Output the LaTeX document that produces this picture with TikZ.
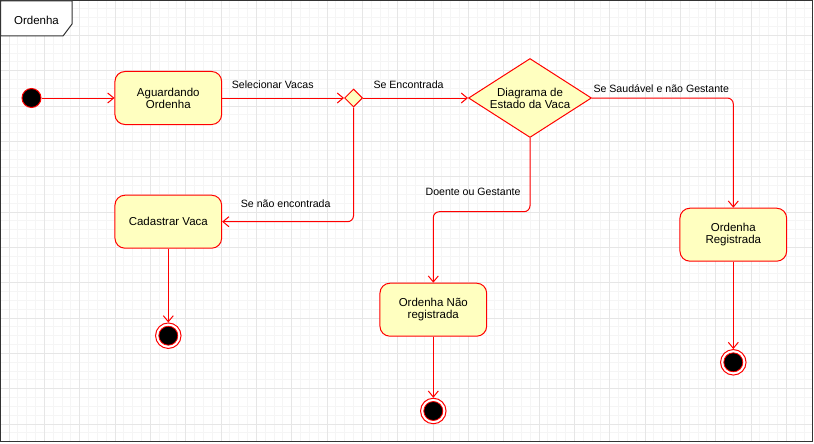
\documentclass[tikz,border=0pt]{standalone}
\usepackage{fontspec}
\setmainfont{Liberation Sans}
\usepackage{xcolor}
\usetikzlibrary{shapes, arrows.meta, positioning}
\definecolor{umlred}{HTML}{FF0000}
\definecolor{umlfill}{HTML}{FFFFC0}
\definecolor{gridmajor}{HTML}{E6E6E6}
\definecolor{gridminor}{HTML}{F5F5F5}

\begin{document}
\begin{tikzpicture}[x=1pt, y=-1pt,
  boxfont/.style={font=\fontsize{11.5}{12}\selectfont},
  lbl/.style={font=\fontsize{10.6}{12}\selectfont, inner sep=0pt},
  state/.style={boxfont, draw=umlred, fill=umlfill, line width=1pt, rounded corners=10pt,
    minimum width=106.7pt, minimum height=53pt, align=center},
  choice/.style={diamond, draw=umlred, fill=umlfill, line width=1pt, inner sep=0pt},
  initial/.style={circle, draw=umlred, fill=black, line width=1pt, minimum size=19pt, inner sep=0pt},
  final/.style={circle, draw=umlred, fill=white, line width=1pt, minimum size=25.5pt, inner sep=0pt,
    path picture={\filldraw[fill=black, draw=umlred, line width=0.8pt]
      (path picture bounding box.center) circle (9.5pt);}},
  trans/.style={draw=umlred, line width=1pt, rounded corners=6pt,
    -{Straight Barb[length=6pt, width=10pt]}}]
\useasboundingbox (0,0) rectangle (814,444);

% grade
\foreach \k in {0,...,91} \draw[gridminor, line width=0.8pt] ({0.17+8.833*\k},1) -- ++(0,440.5);
\foreach \k in {1,...,49} \draw[gridminor, line width=0.8pt] (0.5,{8.833*\k}) -- ++(811.5,0);
\foreach \k in {0,...,22} \draw[gridmajor, line width=0.8pt] ({9+35.33*\k},1) -- ++(0,440.5);
\foreach \k in {1,...,12} \draw[gridmajor, line width=0.8pt] (0.5,{35.33*\k}) -- ++(811.5,0);

% moldura
\draw[black!80, line width=1pt] (0.5,1) rectangle (812,441.5);
\draw[black!80, fill=white, line width=1pt] (0.5,1) -- (72,1) -- (72,24) -- (63,36) -- (0.5,36) -- cycle;
\node[boxfont, inner sep=0pt] (tab) at (36.5,20) {Ordenha};

% estados
\node[initial] (inicio) at (31.5,98) {};
\node[state] (aguard) at (168.3,98) {Aguardando\\Ordenha};
\node[choice, minimum width=18pt, minimum height=18pt] (selec) at (353.5,98) {};
\node[choice, boxfont, align=center, aspect=1.56, minimum width=123pt, minimum height=79pt] (estado) at (530,98) {Diagrama de\\Estado da Vaca};
\node[state] (cadastrar) at (168.3,221.7) {Cadastrar Vaca};
\node[state] (naoreg) at (433.3,309.7) {Ordenha Não\\registrada};
\node[state] (reg) at (733.3,234.7) {Ordenha\\Registrada};
\node[final] (fim1) at (168.3,335.7) {};
\node[final] (fim2) at (433.3,411) {};
\node[final] (fim3) at (733.3,362.3) {};

% transicoes
\draw[trans] (inicio) -- (aguard);
\draw[trans] (aguard) -- (selec);
\draw[trans] (selec) -- (estado);
\draw[trans] (selec.south) |- (cadastrar.east);
\draw[trans] (estado.east) -| (reg.north);
\draw[trans] (estado.south) -- ++(0,73.7) -| (naoreg.north);
\draw[trans] (cadastrar) -- (fim1);
\draw[trans] (naoreg) -- (fim2);
\draw[trans] (reg) -- (fim3);

\node[lbl, anchor=west] (lselec) at (231.7,84.3) {Selecionar Vacas};
\node[lbl, anchor=west] (lenc) at (373.3,84.3) {Se Encontrada};
\node[lbl, anchor=west] (lsaud) at (593.3,89) {Se Saudável e não Gestante};
\node[lbl, anchor=west] (lnenc) at (240.7,203.3) {Se não encontrada};
\node[lbl, anchor=east] (ldoente) at (520.7,192.3) {Doente ou Gestante};
\end{tikzpicture}
\end{document}
